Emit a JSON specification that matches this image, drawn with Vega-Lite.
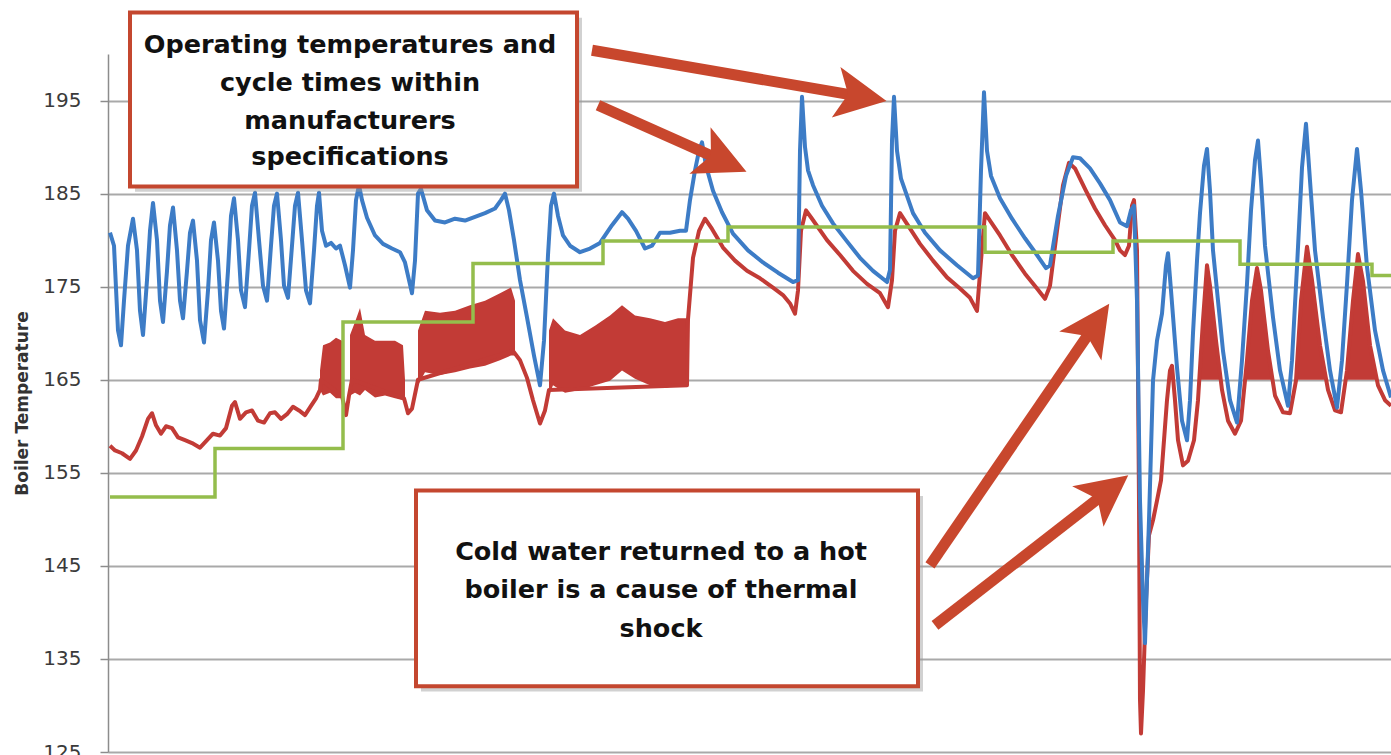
{
  "$schema": "https://vega.github.io/schema/vega-lite/v6.json",
  "width": 1283,
  "height": 698,
  "autosize": {"type": "none"},
  "padding": {"left": 108, "top": 54, "right": 0, "bottom": 3},
  "background": "white",
  "config": {"view": {"stroke": null}},
  "datasets": {
    "blue": [
      {"t":2,"v":180.8},{"t":6,"v":179.4},{"t":10,"v":170.3},{"t":13,"v":168.7},{"t":16,"v":173.5},{"t":20,"v":179.4},{"t":25,"v":182.3},{"t":29,"v":178.9},{"t":32,"v":172.4},{"t":35,"v":169.8},{"t":39,"v":175.7},{"t":42,"v":181.0},{"t":45,"v":184.0},{"t":49,"v":180.0},{"t":52,"v":173.5},{"t":55,"v":171.2},{"t":59,"v":176.7},{"t":62,"v":181.6},{"t":65,"v":183.5},{"t":69,"v":178.9},{"t":72,"v":173.5},{"t":75,"v":171.6},{"t":79,"v":176.7},{"t":82,"v":180.8},{"t":85,"v":182.1},{"t":89,"v":177.8},{"t":92,"v":171.4},{"t":96,"v":169.0},{"t":100,"v":174.6},{"t":103,"v":180.0},{"t":106,"v":181.9},{"t":110,"v":177.8},{"t":113,"v":172.4},{"t":116,"v":170.5},{"t":120,"v":176.7},{"t":123,"v":182.6},{"t":126,"v":184.5},{"t":130,"v":180.0},{"t":133,"v":174.6},{"t":137,"v":172.8},{"t":141,"v":178.9},{"t":144,"v":183.7},{"t":147,"v":185.1},{"t":151,"v":180.0},{"t":155,"v":175.1},{"t":159,"v":173.5},{"t":163,"v":179.4},{"t":166,"v":183.7},{"t":169,"v":185.0},{"t":173,"v":180.0},{"t":176,"v":175.1},{"t":180,"v":173.8},{"t":184,"v":179.4},{"t":187,"v":183.7},{"t":190,"v":185.1},{"t":194,"v":180.0},{"t":198,"v":174.6},{"t":202,"v":173.2},{"t":206,"v":178.9},{"t":209,"v":183.7},{"t":211,"v":185.1},{"t":214,"v":181.0},{"t":218,"v":179.4},{"t":223,"v":179.7},{"t":228,"v":179.1},{"t":232,"v":179.4},{"t":237,"v":177.3},{"t":242,"v":174.9},{"t":245,"v":178.9},{"t":248,"v":184.3},{"t":251,"v":185.9},{"t":254,"v":184.3},{"t":259,"v":182.4},{"t":267,"v":180.5},{"t":275,"v":179.6},{"t":284,"v":179.1},{"t":292,"v":178.7},{"t":297,"v":177.6},{"t":301,"v":175.7},{"t":304,"v":174.3},{"t":307,"v":177.8},{"t":310,"v":185.0},{"t":313,"v":185.5},{"t":319,"v":183.2},{"t":327,"v":182.1},{"t":337,"v":181.9},{"t":347,"v":182.3},{"t":357,"v":182.1},{"t":367,"v":182.5},{"t":377,"v":182.9},{"t":387,"v":183.4},{"t":393,"v":184.3},{"t":397,"v":185.0},{"t":401,"v":183.2},{"t":406,"v":180.0},{"t":412,"v":175.7},{"t":419,"v":171.7},{"t":426,"v":167.6},{"t":432,"v":164.4},{"t":436,"v":169.2},{"t":440,"v":178.4},{"t":443,"v":183.7},{"t":446,"v":185.0},{"t":450,"v":182.6},{"t":455,"v":180.5},{"t":462,"v":179.4},{"t":472,"v":178.7},{"t":482,"v":179.1},{"t":492,"v":179.7},{"t":504,"v":181.6},{"t":514,"v":183.0},{"t":520,"v":182.3},{"t":528,"v":181.0},{"t":537,"v":179.1},{"t":544,"v":179.4},{"t":552,"v":180.8},{"t":562,"v":180.8},{"t":572,"v":181.0},{"t":578,"v":181.0},{"t":582,"v":184.3},{"t":587,"v":187.5},{"t":591,"v":189.6},{"t":594,"v":190.5},{"t":598,"v":188.0},{"t":605,"v":185.3},{"t":614,"v":183.0},{"t":625,"v":180.7},{"t":640,"v":178.9},{"t":655,"v":177.6},{"t":670,"v":176.5},{"t":685,"v":175.5},{"t":690,"v":175.7},{"t":692,"v":189.6},{"t":694,"v":195.4},{"t":697,"v":190.0},{"t":700,"v":187.5},{"t":705,"v":185.9},{"t":714,"v":183.7},{"t":725,"v":181.8},{"t":738,"v":180.0},{"t":752,"v":178.1},{"t":765,"v":176.7},{"t":779,"v":175.5},{"t":782,"v":176.8},{"t":784,"v":190.7},{"t":786,"v":195.4},{"t":789,"v":189.6},{"t":793,"v":186.6},{"t":805,"v":182.9},{"t":817,"v":180.8},{"t":832,"v":178.9},{"t":849,"v":177.3},{"t":865,"v":175.9},{"t":870,"v":176.2},{"t":873,"v":187.5},{"t":876,"v":195.9},{"t":879,"v":189.6},{"t":883,"v":186.9},{"t":892,"v":184.5},{"t":904,"v":182.3},{"t":917,"v":180.2},{"t":929,"v":178.4},{"t":938,"v":177.0},{"t":942,"v":177.3},{"t":950,"v":182.6},{"t":958,"v":186.9},{"t":965,"v":188.9},{"t":972,"v":188.8},{"t":982,"v":187.7},{"t":992,"v":186.1},{"t":1002,"v":184.3},{"t":1012,"v":181.9},{"t":1019,"v":181.5},{"t":1023,"v":183.2},{"t":1026,"v":183.7},{"t":1029,"v":173.5},{"t":1032,"v":152.0},{"t":1035,"v":141.3},{"t":1037,"v":136.7},{"t":1039,"v":143.4},{"t":1041,"v":149.9},{"t":1043,"v":157.4},{"t":1045,"v":164.9},{"t":1049,"v":169.2},{"t":1054,"v":172.1},{"t":1058,"v":177.3},{"t":1060,"v":178.6},{"t":1063,"v":174.6},{"t":1069,"v":166.3},{"t":1074,"v":160.6},{"t":1079,"v":158.5},{"t":1082,"v":162.8},{"t":1085,"v":170.0},{"t":1089,"v":177.8},{"t":1092,"v":182.9},{"t":1096,"v":188.0},{"t":1099,"v":189.8},{"t":1102,"v":185.3},{"t":1105,"v":178.9},{"t":1110,"v":173.5},{"t":1115,"v":168.1},{"t":1122,"v":162.8},{"t":1129,"v":160.4},{"t":1134,"v":167.1},{"t":1139,"v":175.3},{"t":1143,"v":183.2},{"t":1147,"v":188.6},{"t":1150,"v":190.7},{"t":1153,"v":186.4},{"t":1157,"v":179.4},{"t":1165,"v":171.7},{"t":1172,"v":166.0},{"t":1180,"v":162.2},{"t":1184,"v":167.1},{"t":1189,"v":177.1},{"t":1194,"v":187.8},{"t":1198,"v":192.5},{"t":1202,"v":186.4},{"t":1207,"v":178.9},{"t":1215,"v":171.7},{"t":1222,"v":166.0},{"t":1229,"v":162.0},{"t":1234,"v":167.1},{"t":1239,"v":175.3},{"t":1244,"v":184.3},{"t":1249,"v":189.8},{"t":1253,"v":185.3},{"t":1259,"v":177.1},{"t":1267,"v":170.3},{"t":1275,"v":166.0},{"t":1283,"v":163.1}
    ],
    "red": [
      {"t":2,"v":157.9},{"t":7,"v":157.4},{"t":14,"v":157.1},{"t":22,"v":156.5},{"t":28,"v":157.4},{"t":34,"v":158.9},{"t":40,"v":160.8},{"t":44,"v":161.4},{"t":48,"v":160.1},{"t":53,"v":159.2},{"t":58,"v":160.0},{"t":64,"v":159.8},{"t":70,"v":158.8},{"t":77,"v":158.5},{"t":84,"v":158.2},{"t":92,"v":157.7},{"t":99,"v":158.5},{"t":105,"v":159.2},{"t":112,"v":159.0},{"t":118,"v":159.8},{"t":124,"v":162.2},{"t":127,"v":162.6},{"t":132,"v":160.8},{"t":138,"v":161.5},{"t":144,"v":161.7},{"t":150,"v":160.6},{"t":156,"v":160.4},{"t":162,"v":161.4},{"t":167,"v":161.5},{"t":173,"v":160.8},{"t":179,"v":161.3},{"t":185,"v":162.1},{"t":191,"v":161.7},{"t":197,"v":161.2},{"t":203,"v":162.2},{"t":208,"v":163.0},{"t":212,"v":163.9},{"t":213,"v":165.0},{"t":234,"v":163.3},{"t":238,"v":161.2},{"t":241,"v":163.3},{"t":244,"v":165.0},{"t":296,"v":163.0},{"t":300,"v":161.4},{"t":304,"v":161.9},{"t":310,"v":165.0},{"t":405,"v":168.1},{"t":412,"v":167.1},{"t":419,"v":165.2},{"t":425,"v":162.8},{"t":432,"v":160.3},{"t":437,"v":161.7},{"t":441,"v":163.9},{"t":579,"v":164.4},{"t":580,"v":171.5},{"t":585,"v":178.1},{"t":591,"v":181.0},{"t":597,"v":182.3},{"t":604,"v":181.2},{"t":615,"v":179.2},{"t":627,"v":177.8},{"t":639,"v":176.7},{"t":652,"v":175.9},{"t":665,"v":174.9},{"t":675,"v":174.1},{"t":682,"v":173.2},{"t":687,"v":172.1},{"t":690,"v":174.6},{"t":693,"v":181.0},{"t":698,"v":183.2},{"t":704,"v":182.3},{"t":719,"v":180.0},{"t":732,"v":178.4},{"t":745,"v":176.7},{"t":759,"v":175.3},{"t":772,"v":174.3},{"t":780,"v":172.8},{"t":784,"v":175.7},{"t":787,"v":181.0},{"t":792,"v":182.9},{"t":798,"v":181.9},{"t":812,"v":179.6},{"t":825,"v":177.8},{"t":839,"v":176.0},{"t":852,"v":174.8},{"t":862,"v":173.8},{"t":869,"v":172.4},{"t":873,"v":177.8},{"t":877,"v":182.9},{"t":882,"v":182.1},{"t":892,"v":180.5},{"t":904,"v":178.4},{"t":917,"v":176.4},{"t":929,"v":174.8},{"t":937,"v":173.7},{"t":942,"v":175.1},{"t":949,"v":181.0},{"t":955,"v":185.9},{"t":961,"v":188.3},{"t":967,"v":187.7},{"t":977,"v":185.5},{"t":987,"v":183.4},{"t":997,"v":181.6},{"t":1007,"v":180.0},{"t":1012,"v":178.9},{"t":1017,"v":178.4},{"t":1021,"v":179.4},{"t":1024,"v":183.7},{"t":1026,"v":184.3},{"t":1029,"v":178.9},{"t":1031,"v":152.0},{"t":1032,"v":130.6},{"t":1033,"v":127.0},{"t":1035,"v":131.6},{"t":1038,"v":141.3},{"t":1041,"v":148.3},{"t":1045,"v":149.9},{"t":1049,"v":152.0},{"t":1053,"v":154.2},{"t":1056,"v":158.5},{"t":1059,"v":162.8},{"t":1062,"v":166.0},{"t":1064,"v":166.5},{"t":1067,"v":162.8},{"t":1070,"v":158.5},{"t":1075,"v":155.8},{"t":1080,"v":156.3},{"t":1086,"v":158.5},{"t":1090,"v":162.8},{"t":1095,"v":171.4},{"t":1099,"v":177.3},{"t":1102,"v":175.1},{"t":1108,"v":169.2},{"t":1114,"v":163.9},{"t":1120,"v":160.6},{"t":1127,"v":159.2},{"t":1133,"v":160.6},{"t":1139,"v":167.1},{"t":1144,"v":173.5},{"t":1149,"v":177.0},{"t":1153,"v":174.6},{"t":1160,"v":168.1},{"t":1167,"v":163.3},{"t":1175,"v":161.5},{"t":1182,"v":161.4},{"t":1188,"v":164.9},{"t":1193,"v":173.5},{"t":1199,"v":179.3},{"t":1204,"v":175.7},{"t":1212,"v":168.7},{"t":1220,"v":163.9},{"t":1227,"v":161.7},{"t":1233,"v":161.5},{"t":1239,"v":166.0},{"t":1245,"v":173.5},{"t":1250,"v":178.5},{"t":1255,"v":175.6},{"t":1262,"v":168.7},{"t":1270,"v":164.4},{"t":1277,"v":162.8},{"t":1283,"v":162.2}
    ],
    "redband": [
      {"seg":"a","t":212,"lo":163.9,"hi":166.0},{"seg":"a","t":215,"lo":163.3,"hi":168.7},{"seg":"a","t":222,"lo":163.6,"hi":169.0},{"seg":"a","t":228,"lo":163.0,"hi":169.5},{"seg":"a","t":234,"lo":163.0,"hi":169.2},{"seg":"a","t":236,"lo":162.3,"hi":165.5},
      {"seg":"b","t":242,"lo":163.3,"hi":169.8},{"seg":"b","t":247,"lo":163.6,"hi":171.2},{"seg":"b","t":252,"lo":163.3,"hi":172.7},{"seg":"b","t":257,"lo":163.9,"hi":169.8},{"seg":"b","t":267,"lo":163.1,"hi":169.2},{"seg":"b","t":277,"lo":163.3,"hi":169.2},{"seg":"b","t":287,"lo":163.0,"hi":169.2},{"seg":"b","t":295,"lo":162.8,"hi":168.7},{"seg":"b","t":297,"lo":162.2,"hi":165.0},
      {"seg":"c","t":310,"lo":164.4,"hi":170.3},{"seg":"c","t":317,"lo":165.8,"hi":172.4},{"seg":"c","t":332,"lo":165.5,"hi":172.2},{"seg":"c","t":347,"lo":165.8,"hi":172.4},{"seg":"c","t":362,"lo":166.2,"hi":173.0},{"seg":"c","t":377,"lo":166.5,"hi":173.5},{"seg":"c","t":392,"lo":167.1,"hi":174.3},{"seg":"c","t":403,"lo":167.6,"hi":174.9},{"seg":"c","t":407,"lo":167.6,"hi":173.5},
      {"seg":"d","t":441,"lo":163.3,"hi":170.3},{"seg":"d","t":445,"lo":164.4,"hi":171.6},{"seg":"d","t":457,"lo":163.6,"hi":170.3},{"seg":"d","t":472,"lo":163.9,"hi":169.8},{"seg":"d","t":487,"lo":164.4,"hi":170.8},{"seg":"d","t":502,"lo":164.9,"hi":171.9},{"seg":"d","t":514,"lo":166.0,"hi":173.0},{"seg":"d","t":527,"lo":165.1,"hi":171.9},{"seg":"d","t":542,"lo":164.4,"hi":171.6},{"seg":"d","t":557,"lo":164.1,"hi":171.2},{"seg":"d","t":570,"lo":164.4,"hi":171.6},{"seg":"d","t":579,"lo":164.6,"hi":171.6},
      {"seg":"e","t":1091.3,"lo":165,"hi":165},{"seg":"e","t":1095,"lo":165,"hi":171.4},{"seg":"e","t":1099,"lo":165,"hi":177.3},{"seg":"e","t":1102,"lo":165,"hi":175.1},{"seg":"e","t":1108,"lo":165,"hi":169.2},{"seg":"e","t":1112.8,"lo":165,"hi":165},
      {"seg":"f","t":1137.1,"lo":165,"hi":165},{"seg":"f","t":1139,"lo":165,"hi":167.1},{"seg":"f","t":1144,"lo":165,"hi":173.5},{"seg":"f","t":1149,"lo":165,"hi":177.0},{"seg":"f","t":1153,"lo":165,"hi":174.6},{"seg":"f","t":1160,"lo":165,"hi":168.1},{"seg":"f","t":1164.5,"lo":165,"hi":165},
      {"seg":"g","t":1188,"lo":165,"hi":165},{"seg":"g","t":1193,"lo":165,"hi":173.5},{"seg":"g","t":1199,"lo":165,"hi":179.3},{"seg":"g","t":1204,"lo":165,"hi":175.7},{"seg":"g","t":1212,"lo":165,"hi":168.7},{"seg":"g","t":1218.2,"lo":165,"hi":165},
      {"seg":"h","t":1237.7,"lo":165,"hi":165},{"seg":"h","t":1239,"lo":165,"hi":166.0},{"seg":"h","t":1245,"lo":165,"hi":173.5},{"seg":"h","t":1250,"lo":165,"hi":178.5},{"seg":"h","t":1255,"lo":165,"hi":175.6},{"seg":"h","t":1262,"lo":165,"hi":168.7},{"seg":"h","t":1268.9,"lo":165,"hi":165}
    ],
    "green": [
      {"t":2,"v":152.4},{"t":107,"v":157.6},{"t":235,"v":171.2},{"t":365,"v":177.5},{"t":495,"v":179.9},{"t":620,"v":181.4},{"t":877,"v":178.7},{"t":1005,"v":179.9},{"t":1132,"v":177.4},{"t":1264,"v":176.2},{"t":1283,"v":176.2}
    ],
    "boxes": [
      {"id":"top","t":22,"t2":469,"v":204.45,"v2":185.76},
      {"id":"bottom","t":308,"t2":810,"v":153.1,"v2":132.06}
    ],
    "shadows": [
      {"id":"top","t":27,"t2":474,"v":203.9,"v2":185.2},
      {"id":"bottom","t":313,"t2":815,"v":152.5,"v2":131.5}
    ],
    "notes": [
      {"t":242,"v":201.0,"label":"Operating temperatures and"},
      {"t":242,"v":196.93,"label":"cycle times within"},
      {"t":242,"v":192.85,"label":"manufacturers"},
      {"t":242,"v":188.88,"label":"specifications"},
      {"t":553,"v":146.45,"label":"Cold water returned to a hot"},
      {"t":553,"v":142.37,"label":"boiler is a cause of thermal"},
      {"t":553,"v":138.18,"label":"shock"}
    ],
    "shafts": [
      {"id":1,"t":484,"v":200.4,"t2":752,"v2":195.45},
      {"id":2,"t":490,"v":194.5,"t2":614,"v2":188.56},
      {"id":3,"t":822,"v":145.05,"t2":986,"v2":170.77},
      {"id":4,"t":827,"v":138.6,"t2":999,"v2":152.97}
    ]
  },
  "layer": [
    {
      "data": {"name": "redband"},
      "mark": {"type": "area", "color": "#c23b36", "opacity": 1},
      "encoding": {
        "x": {"field": "t", "type": "quantitative", "scale": {"domain": [0, 1283], "nice": false, "zero": false}, "axis": null},
        "y": {"field": "hi", "type": "quantitative", "scale": {"domain": [125, 200], "nice": false, "zero": false},
          "axis": {
            "values": [125, 135, 145, 155, 165, 175, 185, 195],
            "title": "Boiler Temperature",
            "grid": true, "gridColor": "#a9a9a9", "gridWidth": 2,
            "domainColor": "#8c8c8c", "domainWidth": 1.5,
            "tickColor": "#8c8c8c", "tickSize": 8, "tickWidth": 1.5,
            "labelFont": "DejaVu Sans", "labelFontSize": 20, "labelColor": "#3a3a3a", "labelPadding": 19,
            "titleFont": "DejaVu Sans", "titleFontSize": 17, "titleFontWeight": "bold", "titleColor": "#333333",
            "titleX": -86, "titleY": 349, "titleAngle": -90, "titleAlign": "center", "titleBaseline": "middle"
          }},
        "y2": {"field": "lo"},
        "detail": {"field": "seg"}
      }
    },
    {
      "data": {"name": "red"},
      "mark": {"type": "line", "color": "#c23b36", "strokeWidth": 4, "strokeJoin": "round"},
      "encoding": {
        "x": {"field": "t", "type": "quantitative"},
        "y": {"field": "v", "type": "quantitative"}
      }
    },
    {
      "data": {"name": "blue"},
      "mark": {"type": "line", "color": "#3d7cc6", "strokeWidth": 4, "strokeJoin": "round"},
      "encoding": {
        "x": {"field": "t", "type": "quantitative"},
        "y": {"field": "v", "type": "quantitative"}
      }
    },
    {
      "data": {"name": "green"},
      "mark": {"type": "line", "color": "#94bd4c", "strokeWidth": 3.5, "interpolate": "step-after"},
      "encoding": {
        "x": {"field": "t", "type": "quantitative"},
        "y": {"field": "v", "type": "quantitative"}
      }
    },
    {
      "data": {"name": "shadows"},
      "mark": {"type": "rect", "fill": "#9a9a9a", "opacity": 0.45},
      "encoding": {
        "x": {"field": "t", "type": "quantitative"},
        "x2": {"field": "t2"},
        "y": {"field": "v", "type": "quantitative"},
        "y2": {"field": "v2"}
      }
    },
    {
      "data": {"name": "boxes"},
      "mark": {"type": "rect", "fill": "white", "stroke": "#c4472f", "strokeWidth": 4},
      "encoding": {
        "x": {"field": "t", "type": "quantitative"},
        "x2": {"field": "t2"},
        "y": {"field": "v", "type": "quantitative"},
        "y2": {"field": "v2"}
      }
    },
    {
      "data": {"name": "notes"},
      "mark": {"type": "text", "font": "DejaVu Sans", "fontWeight": "bold", "fontSize": 25.5, "color": "#111111", "align": "center", "baseline": "middle"},
      "encoding": {
        "x": {"field": "t", "type": "quantitative"},
        "y": {"field": "v", "type": "quantitative"},
        "text": {"field": "label"}
      }
    },
    {
      "data": {"name": "shafts"},
      "mark": {"type": "rule", "color": "#c8472d", "strokeWidth": 11},
      "encoding": {
        "x": {"field": "t", "type": "quantitative"},
        "y": {"field": "v", "type": "quantitative"},
        "x2": {"field": "t2"},
        "y2": {"field": "v2"}
      }
    },
    {
      "data": {"name": "shafts"},
      "transform": [{"filter": "datum.id == 1"}],
      "mark": {"type": "point", "filled": true, "color": "#c8472d", "opacity": 1, "size": 2900, "angle": 99.7, "shape": "M0,-1L0.95,0.9L0,0.45L-0.95,0.9Z"},
      "encoding": {"x": {"field": "t2", "type": "quantitative"}, "y": {"field": "v2", "type": "quantitative"}}
    },
    {
      "data": {"name": "shafts"},
      "transform": [{"filter": "datum.id == 2"}],
      "mark": {"type": "point", "filled": true, "color": "#c8472d", "opacity": 1, "size": 2900, "angle": 114.5, "shape": "M0,-1L0.95,0.9L0,0.45L-0.95,0.9Z"},
      "encoding": {"x": {"field": "t2", "type": "quantitative"}, "y": {"field": "v2", "type": "quantitative"}}
    },
    {
      "data": {"name": "shafts"},
      "transform": [{"filter": "datum.id == 3"}],
      "mark": {"type": "point", "filled": true, "color": "#c8472d", "opacity": 1, "size": 2900, "angle": 34.4, "shape": "M0,-1L0.95,0.9L0,0.45L-0.95,0.9Z"},
      "encoding": {"x": {"field": "t2", "type": "quantitative"}, "y": {"field": "v2", "type": "quantitative"}}
    },
    {
      "data": {"name": "shafts"},
      "transform": [{"filter": "datum.id == 4"}],
      "mark": {"type": "point", "filled": true, "color": "#c8472d", "opacity": 1, "size": 2900, "angle": 52.2, "shape": "M0,-1L0.95,0.9L0,0.45L-0.95,0.9Z"},
      "encoding": {"x": {"field": "t2", "type": "quantitative"}, "y": {"field": "v2", "type": "quantitative"}}
    }
  ]
}
